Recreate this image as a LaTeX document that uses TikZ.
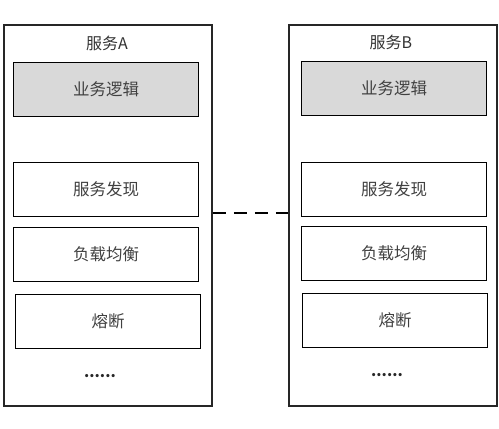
\documentclass[tikz,border=0pt]{standalone}
\usepackage{fontspec}
\setmainfont{Noto Sans CJK SC}
\begin{document}
\begin{tikzpicture}[x=1pt,y=-1pt,
  outer/.style={draw=black!85,line width=1.8pt,minimum width=208pt,minimum height=381pt,inner sep=0pt,anchor=north west},
  inbox/.style={draw=black,line width=1.1pt,minimum width=185pt,minimum height=54pt,inner sep=0pt,anchor=north west,text=black!75,font=\fontsize{16.5}{18}\selectfont},
  logic/.style={inbox,fill=black!15},
  ttl/.style={text=black!80,font=\fontsize{16}{18}\selectfont,inner sep=0pt},
  dots/.style={text=black!85,font=\fontsize{15}{16}\selectfont\bfseries,inner sep=0pt},
  link/.style={draw=black,line width=1.3pt,dash pattern=on 13pt off 8pt}]
\useasboundingbox (0,0) rectangle (499,429);
\node[outer] (A) at (3,24) {};
\node[outer] (B) at (288,24) {};
\node[ttl] (tA) at (107,43) {服务A};
\node[ttl] (tB) at (391,42) {服务B};
\node[logic] (la) at (13,62) {业务逻辑};
\node[inbox] (sa) at (13,162) {服务发现};
\node[inbox] (ba) at (13,227) {负载均衡};
\node[inbox] (fa) at (15,294) {熔断};
\node[dots] (da) at (100,376) {......};
\node[logic] (lb) at (301,61) {业务逻辑};
\node[inbox] (sb) at (301,162) {服务发现};
\node[inbox] (bb) at (301,226) {负载均衡};
\node[inbox] (fb) at (302,293) {熔断};
\node[dots] (db) at (387,375) {......};
\coordinate (ly) at (0,213);
\draw[link] (A.east |- ly) -- (B.west |- ly);
\end{tikzpicture}
\end{document}
